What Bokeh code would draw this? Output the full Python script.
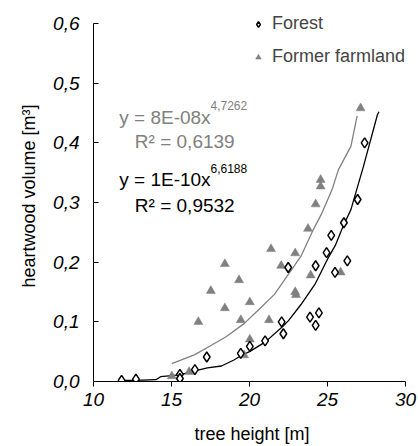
from bokeh.plotting import figure
from bokeh.models import Legend, LegendItem, Label, FixedTicker
from bokeh.embed import file_html
from bokeh.resources import INLINE

# ---- data ----
forest_x = [11.80, 12.72, 15.54, 15.54, 16.50, 17.26, 19.44, 20.02, 21.00, 22.06, 22.17, 22.48,
            23.88, 24.45, 24.24, 24.24, 24.94, 25.24, 25.48, 26.05, 26.27, 26.93, 27.38]
forest_y = [0.002, 0.004, 0.012, 0.005, 0.020, 0.041, 0.047, 0.059, 0.068, 0.100, 0.080, 0.191,
            0.108, 0.115, 0.094, 0.194, 0.216, 0.245, 0.183, 0.266, 0.202, 0.305, 0.400]

farm_x = [15.02, 16.13, 16.72, 17.52, 18.42, 18.42, 19.33, 19.44, 19.65, 20.02, 20.02, 21.25,
          21.38, 22.03, 22.93, 22.93, 22.98, 23.75, 23.92, 24.24, 24.56, 24.56, 25.84, 27.12]
farm_y = [0.009, 0.016, 0.100, 0.152, 0.197, 0.123, 0.170, 0.103, 0.044, 0.133, 0.0705, 0.103,
          0.222, 0.194, 0.215, 0.150, 0.145, 0.256, 0.178, 0.297, 0.338, 0.327, 0.183, 0.458]

# trend lines as drawn in the reference
forest_fit_x = [11.8, 12.7, 14.0, 14.3, 15.0, 15.5, 16.5, 17.3, 18.2, 19.0, 19.5, 20.0, 21.0,
                22.2, 22.5, 23.3, 24.2, 25.0, 25.5, 26.0, 26.5, 27.3, 28.2, 28.3]
forest_fit_y = [0.002, 0.002, 0.003, 0.008, 0.010, 0.011, 0.018, 0.023, 0.026, 0.036, 0.044, 0.050,
                0.066, 0.094, 0.102, 0.129, 0.163, 0.205, 0.228, 0.260, 0.288, 0.360, 0.447, 0.452]

farm_fit_x = [15.02, 16.5, 17.5, 18.5, 19.65, 20.5, 21.6, 22.5, 23.3, 24.1, 24.6, 25.3, 25.7, 26.5, 26.9]
farm_fit_y = [0.030, 0.045, 0.060, 0.075, 0.097, 0.118, 0.146, 0.180, 0.210, 0.255, 0.280, 0.322,
              0.355, 0.394, 0.445]

x_ticks = [10, 15, 20, 25, 30]
y_ticks = [0, 0.1, 0.2, 0.3, 0.4, 0.5, 0.6]
y_tick_labels = ["0,0", "0,1", "0,2", "0,3", "0,4", "0,5", "0,6"]

GRAY = "#808080"
FONT = "Liberation Sans"

# frame slightly larger than the axes (axes limited with bounds) so the legend is not clipped
p = figure(width=418, height=446, x_range=(10, 30.32), y_range=(0, 0.6217),
           output_backend="svg", toolbar_location=None,
           min_border_left=93, min_border_right=8, min_border_top=10, min_border_bottom=63)
p.grid.visible = False
p.outline_line_color = None
p.background_fill_color = "white"
p.border_fill_color = "white"

# axes
p.xaxis.ticker = FixedTicker(ticks=x_ticks)
p.yaxis.ticker = FixedTicker(ticks=y_ticks)
p.xaxis.bounds = (10, 30)
p.yaxis.bounds = (0, 0.6)
p.yaxis.major_label_overrides = {t: s for t, s in zip(y_ticks, y_tick_labels)}
for ax in (p.xaxis, p.yaxis):
    ax.axis_line_color = "black"
    ax.axis_line_width = 1
    ax.major_tick_line_color = "black"
    ax.minor_tick_line_color = None
    ax.major_label_text_font = FONT
    ax.major_label_text_font_size = "19px"
    ax.major_label_text_font_style = "italic"
    ax.major_label_text_color = "black"
    ax.axis_label_text_font = FONT
    ax.axis_label_text_font_size = "18px"
    ax.axis_label_text_font_style = "normal"
    ax.axis_label_text_color = "black"

p.xaxis.major_tick_in = 0
p.xaxis.major_tick_out = 5
p.xaxis.major_label_standoff = 6
p.xaxis.axis_label = "tree height [m]"
p.xaxis.axis_label_standoff = 15

p.yaxis.major_tick_in = 5
p.yaxis.major_tick_out = 0
p.yaxis.major_label_standoff = 14
p.yaxis.axis_label = "heartwood volume [m³]"
p.yaxis.axis_label_standoff = 11

# trend lines
p.line(farm_fit_x, farm_fit_y, line_color=GRAY, line_width=1.3)
p.line(forest_fit_x, forest_fit_y, line_color="black", line_width=1.3)

# points
r_farm = p.scatter(farm_x, farm_y, marker="triangle", size=9, fill_color=GRAY,
                   line_color=GRAY, line_width=0.5)
r_forest = p.scatter(forest_x, forest_y, marker="diamond", size=10,
                     fill_color="white", line_color="black", line_width=1.5)

legend = Legend(items=[LegendItem(label="Forest", renderers=[r_forest]),
                       LegendItem(label="Former farmland", renderers=[r_farm])],
                location=(158, 314), orientation="vertical",
                padding=0, margin=0, spacing=12, glyph_width=14, glyph_height=20,
                label_height=20, label_standoff=7,
                label_text_font=FONT, label_text_font_size="18px",
                background_fill_alpha=0, border_line_alpha=0)
p.add_layout(legend)

# equations
def lab(x, y, text, color, size):
    p.add_layout(Label(x=x, y=y, text=text, text_color=color, text_font=FONT,
                       text_font_size=size, text_baseline="middle", text_align="left"))

lab(11.65, 0.4417, "y = 8E-08x", GRAY, "19px")
lab(17.50, 0.462, "4,7262", GRAY, "12px")
lab(12.65, 0.402, "R² = 0,6139", GRAY, "19px")
lab(11.65, 0.338, "y = 1E-10x", "black", "19px")
lab(17.50, 0.357, "6,6188", "black", "12px")
lab(12.65, 0.295, "R² = 0,9532", "black", "19px")

open("out.html", "w").write(file_html(p, INLINE))
